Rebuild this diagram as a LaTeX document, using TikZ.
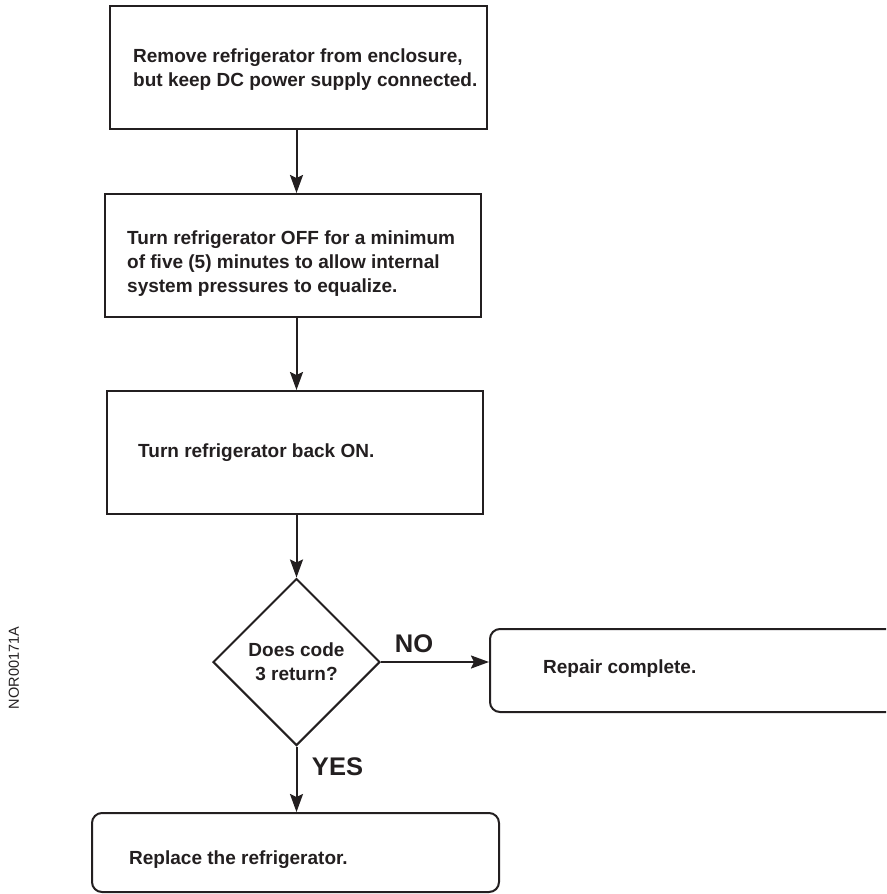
\documentclass[tikz,border=0pt]{standalone}
\usepackage{fontspec}
\setmainfont{Liberation Sans}
\usetikzlibrary{shapes.geometric,arrows.meta,calc}
\definecolor{ink}{RGB}{35,31,32}
\begin{document}
\begin{tikzpicture}[x=1pt,y=-1pt,
  box/.style={draw=ink, line width=2pt, inner sep=0pt},
  rbox/.style={box, rounded corners=10pt},
  txt/.style={font=\bfseries\fontsize{19}{24}\selectfont, text=ink, align=left, inner sep=0pt, anchor=west},
  lbl/.style={font=\bfseries\fontsize{25.5}{30}\selectfont, text=ink, inner sep=0pt},
  arr/.style={draw=ink, line width=2pt, -{Stealth[length=18pt, width=13pt, inset=3pt]}}]
\path[use as bounding box, clip] (0,0) rectangle (886,894);
\fill[white] (0,0) rectangle (886,894);

\node[box, minimum width=377pt, minimum height=123pt] (b1) at (298.5,67.5) {};
\node[txt] (t1) at ([xshift=24pt, yshift=-2.5pt]b1.west) {Remove refrigerator from enclosure,\\but keep DC power supply connected.};

\node[box, minimum width=376pt, minimum height=123pt] (b2) at (293,255.5) {};
\node[txt] (t2) at ([xshift=23pt, yshift=-8.5pt]b2.west) {Turn refrigerator OFF for a minimum\\of five (5) minutes to allow internal\\system pressures to equalize.};

\node[box, minimum width=376pt, minimum height=123pt] (b3) at (295,452.5) {};
\node[txt] (t3) at ([xshift=32pt]b3.west) {Turn refrigerator back ON.};

\node[diamond, aspect=1, draw=ink, line width=2pt, inner sep=0pt, minimum width=167pt, minimum height=167pt,
      font=\bfseries\fontsize{19}{24}\selectfont, text=ink, align=center] (d) at (296.5,662) {Does code\\3 return?};

\node[rbox, minimum width=410pt, minimum height=83pt] (r) at (695,670.5) {};
\node[txt] (tr) at ([xshift=54pt, yshift=1.5pt]r.west) {Repair complete.};

\node[rbox, minimum width=407pt, minimum height=79pt] (p) at (295.5,852.5) {};
\node[txt] (tp) at ([xshift=38pt, yshift=-7.5pt]p.west) {Replace the refrigerator.};

\draw[arr] (b1.south -| d.north) -- (b2.north -| d.north);
\draw[arr] (b2.south -| d.north) -- (b3.north -| d.north);
\draw[arr] (b3.south -| d.north) -- (d.north);
\draw[arr] (d.east) -- (d.east -| r.west);
\draw[arr] (d.south) -- (p.north -| d.south);

\node[lbl] (no) at (414,643.5) {NO};
\node[lbl] (yes) at (337.5,767) {YES};

\node[rotate=90, font=\fontsize{14.5}{17}\selectfont, text=ink, inner sep=0pt] (id) at (14,668) {NOR00171A};
\end{tikzpicture}
\end{document}
